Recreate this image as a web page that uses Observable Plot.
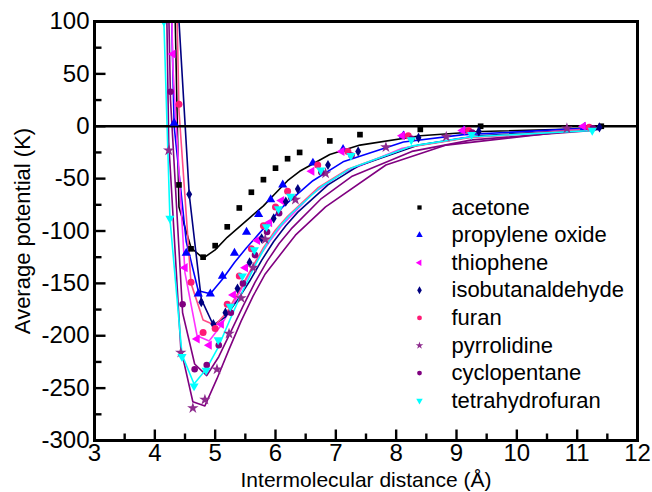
<!DOCTYPE html>
<html><head><meta charset="utf-8">
<script src="https://cdn.jsdelivr.net/npm/d3@7"></script>
<script src="https://cdn.jsdelivr.net/npm/@observablehq/plot@0.6"></script>
<style>
html,body{margin:0;padding:0;background:#fff;}
#chart{width:652px;height:492px;}
</style></head><body><div id="chart"></div>
<script>
// Tick values
const xTicks = [3, 4, 5, 6, 7, 8, 9, 10, 11, 12];
const xMinorTicks = [3.5, 4.5, 5.5, 6.5, 7.5, 8.5, 9.5, 10.5, 11.5];
const yTicks = [100, 50, 0, -50, -100, -150, -200, -250, -300];
const yMinorTicks = [75, 25, -25, -75, -125, -175, -225, -275];

// Series
const seriesNames = ["acetone", "propylene oxide", "thiophene", "isobutanaldehyde", "furan", "pyrrolidine", "cyclopentane", "tetrahydrofuran"];
const markerColors = ["#000000", "#0000ff", "#ff00ff", "#000080", "#ff1a75", "#8e2c8e", "#800080", "#00ffff"];
const lineColors = ["#000000", "#0000ff", "#ff33ff", "#000080", "#ff4d88", "#800080", "#800080", "#00ffff"];
const markerSymbols = ["square", "triangle", "triangle", "diamond", "circle", "star", "circle", "triangle"];
const markerRotate = [0, 0, -90, 0, 0, 0, 0, 180];
const markerRadius = [3.2, 3.4, 3.4, 3.1, 3.5, 3.6, 3.3, 3.4];

// acetone
const acetoneX   = [4.2, 4.4, 4.6, 4.8, 5.0, 5.2, 5.4, 5.6, 5.8, 6.0, 6.2, 6.4, 6.9, 7.4, 8.4, 9.4, 11.4];
const acetoneSim = [null, -56, -117, -125, -114, -96, -78, -63, -51, -40, -31, -25, -14, -8, -3, 0, 0];
const acetoneFit = [500, -77, -116, -126, -118, -106, -96, -86, -76, -64, -52, -43, -27, -18, -9, -5, -2];
// propylene oxide
const propyleneX   = [4.12, 4.32, 4.52, 4.72, 4.92, 5.12, 5.32, 5.52, 5.72, 5.92, 6.12, 6.62, 7.12, 8.12, 9.12, 11.12];
const propyleneSim = [null, 3, -121, -160, -160, -143, -121, -101, -84, -70, -56, -35, -22, -9, -4, -1];
const propyleneFit = [500, 0, -110, -157, -160, -146, -130, -116, -103, -90, -77, -52, -34, -15, -8, -2];
// thiophene
const thiopheneX   = [4.1, 4.3, 4.5, 4.7, 4.9, 5.1, 5.3, 5.5, 5.7, 5.9, 6.1, 6.6, 7.1, 8.1, 9.1, 11.1];
const thiopheneSim = [null, 69, -135, -203, -209, -189, -161, -135, -109, -92, -71, -43, -24, -9, -4, 0];
const thiopheneFit = [600, 55, -140, -200, -205, -190, -170, -148, -127, -110, -95, -65, -45, -21, -11, -3];
// isobutanaldehyde
const isobutX   = [4.37, 4.57, 4.77, 4.97, 5.17, 5.37, 5.57, 5.77, 5.97, 6.17, 6.37, 6.87, 7.37, 8.37, 9.37, 11.37];
const isobutSim = [null, -65, -168, -189, -178, -155, -130, -107, -88, -72, -60, -37, -24, -11, -5, -1];
const isobutFit = [130, -65, -165, -190, -182, -166, -148, -128, -110, -95, -82, -56, -38, -18, -9, -3];
// furan
const furanX   = [4.2, 4.4, 4.6, 4.8, 5.0, 5.2, 5.4, 5.6, 5.8, 6.0, 6.2, 6.7, 7.2, 8.2, 9.2, 11.2];
const furanSim = [null, 21, -149, -197, -193, -170, -143, -117, -95, -77, -62, -37, -24, -9, -4, -1];
const furanFit = [600, 15, -150, -185, -190, -177, -157, -136, -116, -99, -86, -59, -41, -20, -11, -3];
// pyrrolidine
const pyrrolidineX   = [4.03, 4.23, 4.43, 4.63, 4.83, 5.03, 5.23, 5.43, 5.63, 5.83, 6.33, 6.83, 7.83, 8.83, 10.83];
const pyrrolidineSim = [null, -23, -216, -269, -261, -232, -198, -164, -135, -108, -70, -45, -20, -10, -2];
const pyrrolidineFit = [750, -15, -212, -263, -267, -241, -213, -186, -162, -141, -104, -77, -37, -18, -5];
// cyclopentane
const cyclopentaneX   = [4.06, 4.26, 4.46, 4.66, 4.86, 5.06, 5.26, 5.46, 5.66, 5.86, 6.06, 6.26, 6.76, 7.26, 8.26, 9.26, 11.26];
const cyclopentaneSim = [null, 33, -170, -232, -228, -209, -178, -150, -123, -101, -83, -68, -44, -28, -12, -6, -2];
const cyclopentaneFit = [600, 25, -178, -227, -238, -220, -196, -172, -149, -129, -112, -98, -69, -48, -24, -13, -4];
// tetrahydrofuran
const thfX   = [4.15, 4.25, 4.45, 4.65, 4.85, 5.05, 5.25, 5.45, 5.65, 5.85, 6.05, 6.25, 6.75, 7.25, 8.25, 9.25, 11.25];
const thfSim = [100, -88, -220, -248, -233, -204, -172, -143, -118, -96, -79, -67, -42, -28, -13, -8, -4];
const thfFit = [100, -88, -218, -246, -232, -211, -184, -158, -134, -113, -97, -84, -58, -40, -19, -10, -4];

const seriesX   = [acetoneX, propyleneX, thiopheneX, isobutX, furanX, pyrrolidineX, cyclopentaneX, thfX];
const seriesSim = [acetoneSim, propyleneSim, thiopheneSim, isobutSim, furanSim, pyrrolidineSim, cyclopentaneSim, thfSim];
const seriesFit = [acetoneFit, propyleneFit, thiopheneFit, isobutFit, furanFit, pyrrolidineFit, cyclopentaneFit, thfFit];

const rows = seriesNames.flatMap((name, i) =>
  seriesX[i].map((x, j) => ({series: name, x, sim: seriesSim[i][j], fit: seriesFit[i][j]})));

const FONT = "'Liberation Sans', Arial, Helvetica, sans-serif";
const W = 652, H = 492, ML = 94, MR = 15, MT = 21, MB = 52;
const xDomain = [3, 12], yDomain = [-300, 100];
const MAJOR = 11, MINOR = 7;
// convert tick lengths (pixels) to data units so ticks point inward
const xPerPx = (xDomain[1] - xDomain[0]) / (W - ML - MR);
const yPerPx = (yDomain[1] - yDomain[0]) / (H - MT - MB);

const xTickRows = xTicks.map(v => ({v, len: MAJOR})).concat(xMinorTicks.map(v => ({v, len: MINOR})));
const yTickRows = yTicks.map(v => ({v, len: MAJOR})).concat(yMinorTicks.map(v => ({v, len: MINOR})));

const lineMarks = seriesNames.map((name, i) =>
  Plot.line(rows.filter(d => d.series === name && d.fit != null),
    {x: "x", y: "fit", stroke: lineColors[i], strokeWidth: 1.6, clip: true}));

const dotMarks = seriesNames.map((name, i) =>
  Plot.dot(rows.filter(d => d.series === name && d.sim != null),
    {x: "x", y: "sim", symbol: markerSymbols[i], fill: markerColors[i], r: markerRadius[i],
     rotate: markerRotate[i], clip: true}));

const legendMarks = seriesNames.flatMap((name, i) => [
  Plot.dot([name], {frameAnchor: "top-left", dx: 419 - ML, dy: 207 - MT + i * 27.6,
    symbol: markerSymbols[i], fill: markerColors[i], r: 2.4, rotate: markerRotate[i]}),
  Plot.text([name], {frameAnchor: "top-left", dx: 451 - ML, dy: 207 - MT + i * 27.6,
    textAnchor: "start", lineAnchor: "middle", fontSize: 22, fill: "black"})
]);

// inward ticks as links in data space
const tickMarks = [
  Plot.link(xTickRows, {x1: "v", x2: "v", y1: () => yDomain[0], y2: d => yDomain[0] + d.len * yPerPx,
    stroke: "black", strokeWidth: 2.4}),
  Plot.link(yTickRows, {y1: "v", y2: "v", x1: () => xDomain[0], x2: d => xDomain[0] + d.len * xPerPx,
    stroke: "black", strokeWidth: 2.4})
];

const chart = Plot.plot({
  width: W, height: H,
  marginLeft: ML, marginRight: MR, marginTop: MT, marginBottom: MB,
  style: {fontFamily: FONT, fontSize: "22px", color: "black", background: "white"},
  x: {domain: xDomain},
  y: {domain: yDomain},
  marks: [
    ...lineMarks,
    Plot.ruleY([0], {stroke: "black", strokeWidth: 2.6}),
    ...dotMarks,
    Plot.frame({stroke: "black", strokeWidth: 3}),
    ...tickMarks,
    // tick labels
    Plot.axisX({ticks: xTicks, anchor: "bottom", tickSize: 0, tickPadding: 3,
      fontSize: 24, label: null, tickFormat: d => String(d)}),
    Plot.axisY({ticks: yTicks, anchor: "left", tickSize: 0, tickPadding: 5,
      fontSize: 24, label: null, tickFormat: d => String(d)}),
    Plot.text(["Intermolecular distance (Å)"], {frameAnchor: "bottom", dy: 40, textAnchor: "middle",
      lineAnchor: "middle", fontSize: 21, fill: "black"}),
    Plot.text(["Average potential (K)"], {frameAnchor: "left", dx: -72, rotate: -90, textAnchor: "middle",
      lineAnchor: "middle", fontSize: 22, fill: "black"}),
    ...legendMarks
  ]
});
document.getElementById("chart").appendChild(chart);
</script></body></html>
